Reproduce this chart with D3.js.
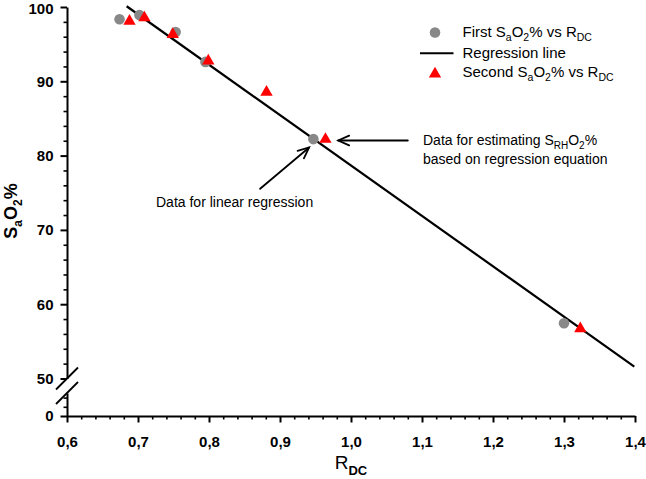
<!DOCTYPE html>
<html>
<head>
<meta charset="utf-8">
<script src="https://cdn.jsdelivr.net/npm/d3@7"></script>
<style>
  html, body { margin: 0; padding: 0; background: #fff; }
  svg { display: block; }
  text { font-family: "Liberation Sans", Arial, Helvetica, sans-serif; }
</style>
</head>
<body>
<svg id="chart" width="646" height="479"></svg>
<script>
// ---- data ----
const firstX = [0.674, 0.702, 0.753, 0.795, 0.947, 1.300];
const firstY = [98.35, 98.92, 96.64, 92.61, 82.22, 57.43];
const secondX = [0.688, 0.709, 0.749, 0.799, 0.881, 0.964, 1.323];
const secondY = [98.1, 98.55, 96.3, 92.75, 88.55, 82.2, 56.7];
const regX = [0.684, 1.399];
const regY = [100.1, 51.6];
const xMajorTicks = [0.6, 0.7, 0.8, 0.9, 1.0, 1.1, 1.2, 1.3, 1.4];
const yMajorTicks = [50, 60, 70, 80, 90, 100];
const yLowTicks = [0];
// annotation arrows (data coords): [x1, y1, x2(tip), y2(tip)]
const arrowEst = [1.080, 82.03, 0.982, 82.03];
const arrowLin = [0.872, 75.53, 0.941, 81.09];

// ---- scales ----
const svg = d3.select("#chart");
const x = d3.scaleLinear().domain([0.6, 1.4]).range([67, 635]);
const y = d3.scaleLinear().domain([50, 100]).range([378.5, 7]);
const yLow = d3.scaleLinear().domain([0, 5]).range([416, 393]);

const fmtX = d => d3.format(".1f")(d).replace(".", ",");
const LW = 2;

function styleAxis(g) {
  g.selectAll("path.domain").attr("stroke", "#000").attr("stroke-width", LW);
  g.selectAll(".tick line").attr("stroke", "#000").attr("stroke-width", LW);
  g.selectAll(".tick text").attr("fill", "#000")
    .attr("font-size", 15).attr("font-weight", "bold")
    .attr("font-family", "'Liberation Sans', Arial, sans-serif");
}

// x axis
const xMinor = d3.range(0.6, 1.4001, 0.02).filter(v => Math.abs(v * 10 - Math.round(v * 10)) > 1e-6);
const gxm = svg.append("g").attr("transform", "translate(0,416)")
  .call(d3.axisBottom(x).tickValues(xMinor).tickSize(3.5).tickSizeOuter(0).tickFormat(""));
gxm.select("path.domain").remove();
gxm.selectAll(".tick line").attr("stroke", "#000").attr("stroke-width", 1.6);
const gx = svg.append("g").attr("transform", "translate(0,416)")
  .call(d3.axisBottom(x).tickValues(xMajorTicks).tickSize(6.5).tickSizeOuter(0).tickPadding(14).tickFormat(fmtX));
styleAxis(gx);
gx.selectAll(".tick text").attr("dy", "0.71em").attr("y", 20);

// y axis upper segment
const yMinor = d3.range(52, 100, 2).filter(v => v % 10 !== 0);
const gym = svg.append("g").attr("transform", "translate(67,0)")
  .call(d3.axisLeft(y).tickValues(yMinor).tickSize(3.5).tickSizeOuter(0).tickFormat(""));
gym.select("path.domain").remove();
gym.selectAll(".tick line").attr("stroke", "#000").attr("stroke-width", 1.6);
const gy = svg.append("g").attr("transform", "translate(67,0)")
  .call(d3.axisLeft(y).tickValues(yMajorTicks).tickSize(6.5).tickSizeOuter(0).tickPadding(7).tickFormat(d3.format("d")));
styleAxis(gy);
// keep the top label inside the picture
gy.selectAll(".tick text").filter(d => d === 100).attr("y", 2);

// y axis lower segment
const gyl = svg.append("g").attr("transform", "translate(67,0)")
  .call(d3.axisLeft(yLow).tickValues(yLowTicks).tickSize(6.5).tickSizeOuter(0).tickPadding(7).tickFormat(d3.format("d")));
styleAxis(gyl);
const gylm = svg.append("g").attr("transform", "translate(67,0)")
  .call(d3.axisLeft(yLow).tickValues([2, 4]).tickSize(3.5).tickSizeOuter(0).tickFormat(""));
gylm.select("path.domain").remove();
gylm.selectAll(".tick line").attr("stroke", "#000").attr("stroke-width", 1.6);

// break marks
[y(50), yLow(5)].forEach(cy => {
  svg.append("line")
    .attr("x1", 56).attr("y1", cy + 11).attr("x2", 78).attr("y2", cy - 11)
    .attr("stroke", "#000").attr("stroke-width", 1.8);
});

// regression line
svg.append("path")
  .datum(regX.map((v, i) => [v, regY[i]]))
  .attr("d", d3.line().x(d => x(d[0])).y(d => y(d[1])))
  .attr("fill", "none").attr("stroke", "#000").attr("stroke-width", 2.2);

// points
const grey = "#888888", red = "#ff0000";
svg.append("g").selectAll("circle")
  .data(firstX.map((v, i) => [v, firstY[i]]))
  .join("circle")
  .attr("cx", d => x(d[0])).attr("cy", d => y(d[1])).attr("r", 5.3)
  .attr("fill", grey);
const tri = d3.symbol(d3.symbolTriangle, 66);
svg.append("g").selectAll("path")
  .data(secondX.map((v, i) => [v, secondY[i]]))
  .join("path")
  .attr("d", tri)
  .attr("transform", d => `translate(${x(d[0])},${y(d[1])})`)
  .attr("fill", red);

// arrows
function arrow(a) {
  const x1 = x(a[0]), y1 = y(a[1]), x2 = x(a[2]), y2 = y(a[3]);
  const ang = Math.atan2(y1 - y2, x1 - x2);
  const L = 12, spread = 0.42;
  const g = svg.append("g").attr("stroke", "#000").attr("stroke-width", 1.8).attr("fill", "none")
    .attr("stroke-linecap", "round");
  g.append("line").attr("x1", x1).attr("y1", y1).attr("x2", x2).attr("y2", y2);
  g.append("path").attr("d",
    `M${x2 + L * Math.cos(ang + spread)},${y2 + L * Math.sin(ang + spread)}L${x2},${y2}L${x2 + L * Math.cos(ang - spread)},${y2 + L * Math.sin(ang - spread)}`);
}
arrow(arrowEst);
arrow(arrowLin);

// rich text helper: parts = [[text, "n"|"sub"], ...]
function rich(sel, parts, size, subSize, subDy) {
  let lastSub = false;
  parts.forEach(([t, k]) => {
    const ts = sel.append("tspan").text(t);
    if (k === "sub") ts.attr("font-size", subSize).attr("dy", subDy);
    else if (lastSub) ts.attr("dy", -subDy);
    lastSub = (k === "sub");
  });
  return sel;
}

// annotations
const ann1 = svg.append("text").attr("x", 423).attr("y", 144.5).attr("font-size", 14).attr("fill", "#000");
rich(ann1, [["Data for estimating S", "n"], ["RH", "sub"], ["O", "n"], ["2", "sub"], ["%", "n"]], 14, 10, 4);
svg.append("text").attr("x", 423).attr("y", 163.8).attr("font-size", 14).attr("fill", "#000")
  .text("based on regression equation");
svg.append("text").attr("x", 156).attr("y", 207.3).attr("font-size", 14).attr("fill", "#000")
  .text("Data for linear regression");

// legend
const lg = svg.append("g");
lg.append("circle").attr("cx", 435).attr("cy", 32.5).attr("r", 5.3).attr("fill", grey);
lg.append("line").attr("x1", 420).attr("x2", 453.5).attr("y1", 53.3).attr("y2", 53.3)
  .attr("stroke", "#000").attr("stroke-width", 2);
lg.append("path").attr("d", tri).attr("transform", "translate(435,74)").attr("fill", red);
const l1 = lg.append("text").attr("x", 462.5).attr("y", 36.7).attr("font-size", 15);
rich(l1, [["First S", "n"], ["a", "sub"], ["O", "n"], ["2", "sub"], ["% vs R", "n"], ["DC", "sub"]], 15, 10.5, 4);
lg.append("text").attr("x", 462.5).attr("y", 58.3).attr("font-size", 15).text("Regression line");
const l3 = lg.append("text").attr("x", 462.5).attr("y", 77.3).attr("font-size", 15);
rich(l3, [["Second S", "n"], ["a", "sub"], ["O", "n"], ["2", "sub"], ["% vs R", "n"], ["DC", "sub"]], 15, 10.5, 4);

// axis titles
const xt = svg.append("text").attr("x", 351).attr("y", 469).attr("text-anchor", "middle")
  .attr("font-size", 19);
xt.append("tspan").text("R");
xt.append("tspan").text("DC").attr("font-size", 13).attr("font-weight", "bold").attr("dy", 5.5);

const yt = svg.append("text").attr("transform", "translate(17,211) rotate(-90)")
  .attr("text-anchor", "middle").attr("font-size", 18).attr("font-weight", "bold");
rich(yt, [["S", "n"], ["a", "sub"], ["O", "n"], ["2", "sub"], ["%", "n"]], 18, 12, 5);
</script>
</body>
</html>
